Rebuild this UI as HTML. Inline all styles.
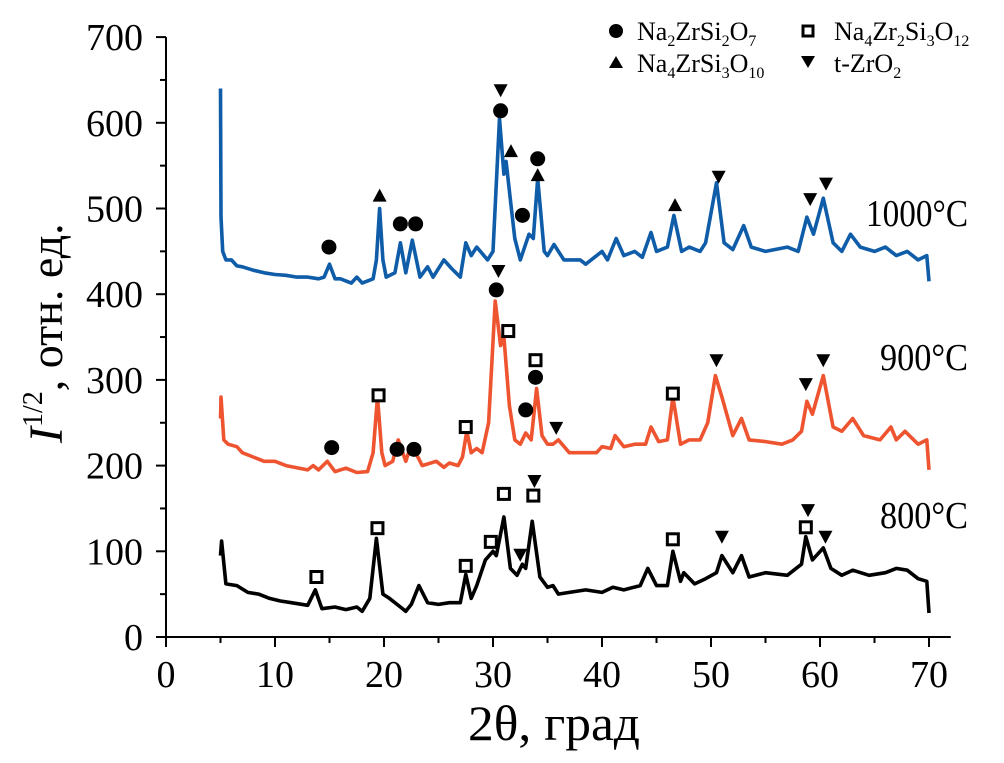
<!DOCTYPE html>
<html><head><meta charset="utf-8"><style>
html,body{margin:0;padding:0;background:#fff;}
svg{display:block;font-family:"Liberation Serif",serif;}
</style></head><body>
<svg id="chart" width="1004" height="763" viewBox="0 0 1004 763" xmlns="http://www.w3.org/2000/svg">
<g id="axes"></g>
<g id="series"></g>
<g id="markers"></g>
<text x="866" y="226" font-size="38" textLength="102" lengthAdjust="spacingAndGlyphs">1000°C</text>
<text x="880" y="370" font-size="38" textLength="88" lengthAdjust="spacingAndGlyphs">900°C</text>
<text x="880" y="528" font-size="38" textLength="88" lengthAdjust="spacingAndGlyphs">800°C</text>
<text x="468" y="740" font-size="50" textLength="172" lengthAdjust="spacingAndGlyphs">2θ, град</text>
<text transform="translate(62,443) rotate(-90)" font-size="46"><tspan font-style="italic" font-size="48">I</tspan><tspan font-size="28" dy="-20">1/2</tspan><tspan dy="20">, отн. ед.</tspan></text>
<g font-size="26">
<circle cx="616" cy="31" r="7" fill="#000"/>
<text x="637" y="40">Na<tspan font-size="16" dy="6">2</tspan><tspan dy="-6">ZrSi</tspan><tspan font-size="16" dy="6">2</tspan><tspan dy="-6">O</tspan><tspan font-size="16" dy="6">7</tspan></text>
<rect x="803" y="26" width="10" height="10" fill="none" stroke="#000" stroke-width="3"/>
<text x="834" y="40">Na<tspan font-size="16" dy="6">4</tspan><tspan dy="-6">Zr</tspan><tspan font-size="16" dy="6">2</tspan><tspan dy="-6">Si</tspan><tspan font-size="16" dy="6">3</tspan><tspan dy="-6">O</tspan><tspan font-size="16" dy="6">12</tspan></text>
<polygon points="609,68 623,68 616,56" fill="#000"/>
<text x="637" y="72">Na<tspan font-size="16" dy="6">4</tspan><tspan dy="-6">ZrSi</tspan><tspan font-size="16" dy="6">3</tspan><tspan dy="-6">O</tspan><tspan font-size="16" dy="6">10</tspan></text>
<polygon points="801,56 815,56 808,68" fill="#000"/>
<text x="834" y="72">t-ZrO<tspan font-size="16" dy="6">2</tspan></text>
</g>
</svg>
<script>
const xTicks=[0,10,20,30,40,50,60,70];
const yTicks=[0,100,200,300,400,500,600,700];
const x1000=[5,5.05,5.2,5.5,6,6.5,7,8,9,10,11,12,13,14,14.5,15,15.5,16,17,17.5,18,19,19.3,19.6,19.9,20.2,21,21.5,22,22.6,23.3,24,24.5,25.5,26.2,27,27.5,28,28.5,29.5,30,30.6,31,31.2,31.6,32,32.5,33.3,33.7,34.1,34.7,35,35.6,36.5,38,38.5,40,40.5,41.3,42,43,43.7,44.5,45,46,46.6,47.3,48,49,49.5,50.5,51.2,52,53,53.7,55,57,58,58.8,59.4,60.3,61.2,62,62.8,63.7,65,66,67,68,69,69.8,70];
const y1000=[640,490,450,440,440,433,432,428,425,423,422,420,420,418,420,435,418,418,413,420,413,418,440,500,440,420,425,460,425,463,420,432,420,440,430,420,460,445,455,440,450,605,540,555,510,465,440,470,465,535,450,445,458,440,440,435,450,440,465,445,450,443,472,450,455,492,450,455,450,460,530,460,452,480,455,450,455,450,490,470,512,460,450,470,455,450,455,445,450,440,445,415];
const x900=[5,5.05,5.3,5.7,6.5,7,8,9,10,11,13,13.5,14,14.8,15.5,16.5,17.5,18.5,19,19.4,19.8,20.1,20.8,21.3,22,22.5,23.5,24.8,25.5,26,26.8,27.2,27.6,28,28.5,29,29.6,30.2,30.7,31,31.5,32,32.5,33,33.5,34,34.5,35,35.5,36,37,38,39.5,40,40.8,41.2,42,43,44,44.5,45.2,46,46.5,47.2,48,49,49.7,50.4,51,52,52.8,53.5,55,56.5,57.5,58.3,58.8,59.3,60.3,61.2,62,63,64,65.5,66.5,67,67.8,69,69.8,70];
const y900=[255,280,230,225,222,215,210,205,205,200,195,200,195,205,193,197,192,193,215,280,215,200,205,230,205,225,200,205,198,203,200,210,240,215,220,215,250,392,340,350,270,230,225,238,230,290,235,225,225,230,215,215,215,222,220,235,222,225,225,245,228,230,280,225,230,230,250,305,280,235,255,230,228,225,230,240,275,260,305,245,240,255,235,230,245,230,240,225,230,195];
const x800=[5,5.1,5.5,6.5,7.5,8.5,9.5,10.5,11.5,13,13.7,14.3,15.5,16.5,17.5,18,18.7,19.3,19.9,20.5,21.5,22,22.5,23.2,24,25,26,27,27.5,28,28.5,29.3,30,30.3,31,31.6,32.2,32.7,33,33.6,34.3,35,35.5,36,37,38.5,40,41,42,43.5,44.2,45,46,46.5,47.2,47.5,48.5,49.5,50.5,51,52,52.8,53.5,55,57,58.3,58.7,59.3,60.3,61,62,63,64.5,66,67,68,69,69.8,70];
const y800=[95,112,62,60,52,50,45,42,40,37,55,33,35,32,35,30,45,115,50,45,35,30,38,60,40,38,40,40,73,45,60,90,100,95,140,80,72,85,80,135,70,58,60,50,52,55,52,58,55,60,80,60,60,100,65,75,62,68,75,95,75,95,70,75,72,85,117,90,104,80,72,78,72,75,80,78,68,65,28];
const phases=["circle","tri-up","circle","circle","tri-down","circle","tri-up","circle","tri-up","circle","tri-up","tri-down","tri-down","tri-down",
"circle","square","circle","circle","square","tri-down","circle","square","square","circle","circle","tri-down","square","tri-down","tri-down","tri-down",
"square","square","square","square","square","tri-down","tri-down","square","square","tri-down","tri-down","square","tri-down"];
const markerX=[14.95,19.6,21.5,22.9,30.7,30.7,31.65,34.1,34.1,32.7,46.7,50.7,59.1,60.55,
15.2,19.5,21.2,22.75,27.5,30.5,30.3,31.4,33.9,33.9,33.0,35.8,46.5,50.5,58.7,60.3,
13.8,19.4,27.5,29.8,31.0,32.5,33.8,33.7,46.5,51.0,58.9,58.7,60.5];
const markerY=[455,515,482,482,638,614,567,558,539,492,504,537,511,529,
221,282,219,219,245,427,405,357,323,303,265,244,284,323,295,323,
70,127,83,111,167,96,182,165,114,117,148,128,117];

const NS="http://www.w3.org/2000/svg";
const X=v=>166+10.9*v;
const Y=v=>637-0.857*v;
function mk(tag,attrs,parent){const e=document.createElementNS(NS,tag);for(const k in attrs)e.setAttribute(k,attrs[k]);parent.appendChild(e);return e;}
const axes=document.getElementById('axes');
let e=mk('line',{x1:X(0),y1:Y(0),x2:X(72),y2:Y(0),stroke:'#000','stroke-width':2},axes);


e=mk('line',{x1:X(0),y1:Y(0),x2:X(0),y2:Y(700),stroke:'#000','stroke-width':2},axes);


for(let i=0;i<xTicks.length*2-1;i++){const v=i*5;const major=i%2===0;
 e=mk('line',{x1:X(v),y1:Y(0),x2:X(v),y2:Y(0)+(major?10:6),stroke:'#000','stroke-width':2},axes);
 
 }
xTicks.forEach(v=>{e=mk('text',{x:X(v),y:687,'font-size':38,'text-anchor':'middle'},axes);e.textContent=v;
 
 });
for(let i=0;i<yTicks.length*2-1;i++){const v=i*50;const major=i%2===0;
 e=mk('line',{x1:X(0)-(major?10:6),y1:Y(v),x2:X(0),y2:Y(v),stroke:'#000','stroke-width':2},axes);
 
 }
yTicks.forEach(v=>{e=mk('text',{x:143,y:Y(v)+13,'font-size':38,'text-anchor':'end'},axes);e.textContent=v;
 
 });
const ser=document.getElementById('series');
[[x1000,y1000,'#0f5ca8','series-1000c'],[x900,y900,'#ee5430','series-900c'],[x800,y800,'#000','series-800c']].forEach(s=>{
 const d=s[0].map((v,i)=>(i?'L':'M')+X(v).toFixed(1)+','+Y(s[1][i]).toFixed(1)).join('');
 e=mk('path',{d:d,fill:'none',stroke:s[2],'stroke-width':3.6,'stroke-linejoin':'round'},ser);
 
 });
const mg=document.getElementById('markers');
phases.forEach((p,i)=>{const cx=X(markerX[i]),cy=Y(markerY[i]);let m;
 if(p==='circle')m=mk('circle',{cx:cx,cy:cy,r:7.5,fill:'#000'},mg);
 else if(p==='square')m=mk('rect',{x:cx-5.5,y:cy-5.5,width:11,height:11,fill:'#fff',stroke:'#000','stroke-width':3},mg);
 else if(p==='tri-up')m=mk('polygon',{points:`${cx-7},${cy+6} ${cx+7},${cy+6} ${cx},${cy-7}`,fill:'#000'},mg);
 else m=mk('polygon',{points:`${cx-7},${cy-6} ${cx+7},${cy-6} ${cx},${cy+7}`,fill:'#000'},mg);
 
 });
</script>
</body></html>
